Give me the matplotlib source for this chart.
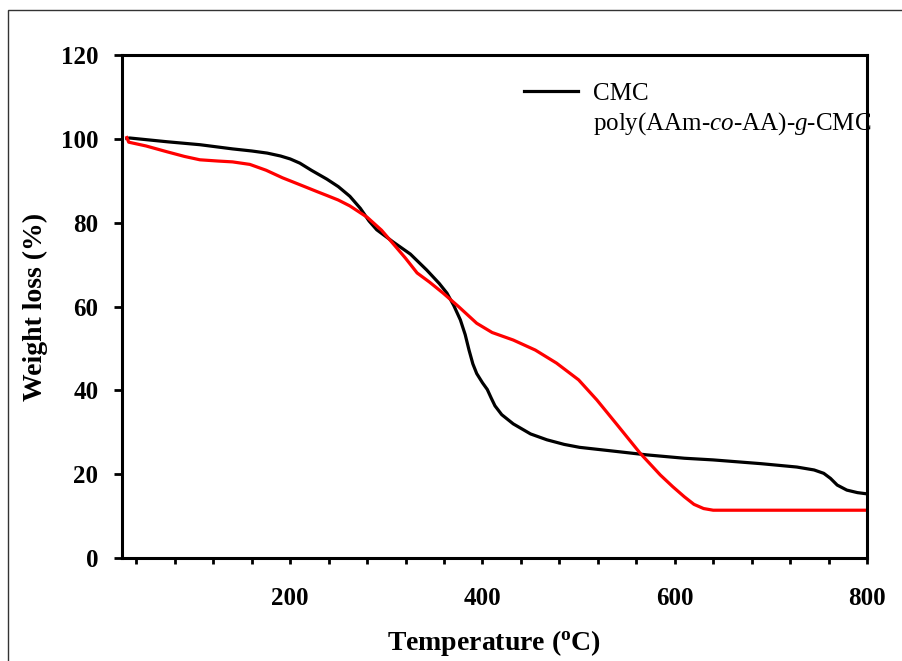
import numpy as np
import matplotlib.pyplot as plt
from matplotlib.patches import Rectangle
from matplotlib.lines import Line2D

# TGA data
cmc_T = [30, 33, 72, 106, 140, 160, 176, 190, 200, 210, 222, 238, 250, 262,
         273, 282, 290, 300, 307, 325, 342, 355, 363, 370, 377, 382, 386, 390,
         394, 400, 405, 409, 413, 420, 432, 450, 467, 485, 501, 540, 571, 610,
         640, 690, 727, 745, 755, 762, 769, 779, 790, 800]
cmc_w = [100.1, 100.2, 99.3, 98.6, 97.6, 97.1, 96.6, 95.9, 95.2, 94.2, 92.5,
         90.4, 88.6, 86.3, 83.4, 80.4, 78.3, 76.6, 75.4, 72.5, 68.7, 65.5, 63.2,
         60.3, 56.8, 53.3, 49.6, 46.3, 44.0, 41.8, 40.2, 38.2, 36.3, 34.2, 32.0,
         29.6, 28.2, 27.1, 26.4, 25.4, 24.6, 23.8, 23.4, 22.5, 21.7, 21.0, 20.2,
         19.0, 17.4, 16.2, 15.6, 15.3]

copo_T = [30, 32, 50, 72, 90, 106, 125, 140, 158, 175, 192, 203, 215, 228,
          238, 250, 262, 280, 295, 307, 320, 332, 345, 359, 375, 394, 410, 432,
          455, 477, 500, 519, 540, 564, 585, 598, 610, 620, 630, 640, 700, 800]
copo_w = [100.3, 99.2, 98.3, 96.9, 95.8, 95.0, 94.7, 94.5, 93.9, 92.5, 90.7, 89.7,
          88.6, 87.4, 86.5, 85.4, 84.0, 81.3, 78.2, 75.0, 71.5, 68.0, 65.8, 63.2,
          60.0, 56.0, 53.8, 52.0, 49.6, 46.5, 42.5, 37.7, 31.8, 25.0, 19.8, 17.0,
          14.6, 12.8, 11.8, 11.4, 11.4, 11.4]

plt.rcParams['font.family'] = 'Liberation Serif'
plt.rcParams['mathtext.fontset'] = 'custom'
plt.rcParams['mathtext.rm'] = 'Liberation Serif'
plt.rcParams['mathtext.it'] = 'Liberation Serif:italic'
plt.rcParams['mathtext.bf'] = 'Liberation Serif:bold'

fig = plt.figure(figsize=(9.02, 6.61), dpi=100)
ax = fig.add_axes([122 / 902, 1 - 558 / 661, 745 / 902, 503 / 661])

# outer frame around the picture
fig.patches.append(Rectangle((8 / 902, -0.1), 1.2, 1 - 10 / 661 + 0.1,
                             transform=fig.transFigure, fill=False,
                             edgecolor='#333333', linewidth=1.0))

ax.plot(cmc_T, cmc_w, color='black', linewidth=2.3)
ax.plot(copo_T, copo_w, color='red', linewidth=2.3)

ax.set_xlim(25, 800)
ax.set_ylim(0, 120)
ax.set_xticks([200, 400, 600, 800])
ax.set_xticks(np.arange(40, 800, 40), minor=True)
ax.set_yticks(np.arange(0, 121, 20))

for s in ax.spines.values():
    s.set_linewidth(2.2)

ax.tick_params(axis='x', which='both', direction='out', length=4, width=2,
               pad=17, labelsize=18, top=False)
ax.tick_params(axis='y', which='major', direction='out', length=6, width=2,
               pad=11, labelsize=18, right=False)
for lab in ax.get_xticklabels() + ax.get_yticklabels():
    lab.set_fontweight('bold')

ax.set_xlabel('Temperature ($\\mathbf{^o}$C)', fontsize=20,
              fontweight='bold', labelpad=13)
ax.set_ylabel('Weight loss (%)', fontsize=20, fontweight='bold', labelpad=9)

handles = [Line2D([], [], color='black', linewidth=2.3),
           Line2D([], [], color='none', linewidth=2.3)]
labels = ['CMC', 'poly(AAm-$\\mathit{co}$-AA)-$\\mathit{g}$-CMC']
leg = ax.legend(handles, labels, loc='upper left', bbox_to_anchor=(0.526, 0.965),
                frameon=False, fontsize=18, handlelength=2.15, handletextpad=0.6,
                labelspacing=0.22, borderaxespad=0)

fig.savefig('out.png', dpi=100)
